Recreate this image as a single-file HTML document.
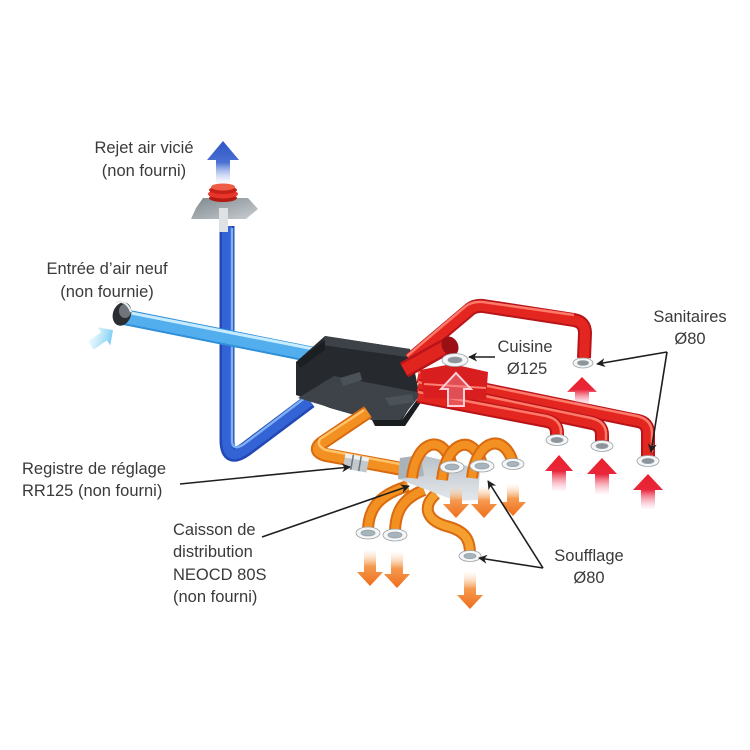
<!DOCTYPE html>
<html><head><meta charset="utf-8"><style>
html,body{margin:0;padding:0;background:#fff;}
svg{display:block;}
text{font-family:"Liberation Sans",sans-serif;font-size:16.5px;fill:#3a3a3a;}
</style></head><body>
<svg width="750" height="750" viewBox="0 0 750 750" xmlns="http://www.w3.org/2000/svg">
<defs>
  <linearGradient id="redUp" x1="0" y1="0" x2="0" y2="1">
    <stop offset="0" stop-color="#e8222a"/>
    <stop offset="0.45" stop-color="#e9263a"/>
    <stop offset="1" stop-color="#f6b0c8" stop-opacity="0.1"/>
  </linearGradient>
  <linearGradient id="orDown" x1="0" y1="0" x2="0" y2="1">
    <stop offset="0" stop-color="#fde4cc" stop-opacity="0.1"/>
    <stop offset="0.45" stop-color="#f59a50"/>
    <stop offset="1" stop-color="#ee6d1a"/>
  </linearGradient>
  <linearGradient id="blueUp" x1="0" y1="0" x2="0" y2="1">
    <stop offset="0" stop-color="#2d55c6"/>
    <stop offset="0.5" stop-color="#4a70d4"/>
    <stop offset="1" stop-color="#dfe8f8" stop-opacity="0.2"/>
  </linearGradient>
  <linearGradient id="cyanA" x1="0" y1="1" x2="1" y2="0">
    <stop offset="0" stop-color="#d8f2fc" stop-opacity="0.2"/>
    <stop offset="1" stop-color="#3fb8ee"/>
  </linearGradient>
  <linearGradient id="flange" x1="0" y1="0" x2="1" y2="1">
    <stop offset="0" stop-color="#7e888e"/>
    <stop offset="1" stop-color="#c9ced2"/>
  </linearGradient>
  <linearGradient id="caisson" x1="0" y1="0" x2="0" y2="1">
    <stop offset="0" stop-color="#b9c1c8"/>
    <stop offset="1" stop-color="#e4e8ec"/>
  </linearGradient>
  <marker id="ah" viewBox="0 0 10 10" refX="9" refY="5" markerWidth="9" markerHeight="9" markerUnits="userSpaceOnUse" orient="auto">
    <path d="M0,0 L10,5 L0,10 L3,5 Z" fill="#1e1e1e"/>
  </marker>
</defs>

<!-- Blue exhaust arrow -->
<path d="M223,141 L239,160 L230,160 L230,184 L216,184 L216,160 L207,160 Z" fill="url(#blueUp)"/>

<!-- Blue vertical exhaust pipe -->
<path d="M227,226 L227,440 Q227,463 246,449 L310,401" fill="none" stroke="#2148b4" stroke-width="15" stroke-linejoin="round"/>
<path d="M227,226 L227,440 Q227,463 246,449 L310,401" fill="none" stroke="#3363d4" stroke-width="10" stroke-linejoin="round"/>
<path d="M232,228 L232,440 Q232,452 244,444 L306,397" fill="none" stroke="#7fb0f4" stroke-width="2.5"/>

<!-- flange and coil -->
<rect x="219" y="206" width="9" height="26" fill="#d6dadc"/>
<polygon points="203,198 248,198 258,209 246,219 191,219 196,208" fill="url(#flange)"/>
<rect x="219" y="208" width="9" height="24" fill="#dfe2e4"/>
<ellipse cx="223" cy="198" rx="14" ry="4" fill="#b31a14"/>
<ellipse cx="223" cy="194" rx="15" ry="4.5" fill="#e8352a"/>
<ellipse cx="223" cy="190" rx="14" ry="4" fill="#c72018"/>
<ellipse cx="223" cy="187" rx="12" ry="3.5" fill="#ef5a44"/>

<!-- cyan intake arrow -->
<g transform="translate(113,330) rotate(55)">
  <path d="M0,0 L11,11 L5,11 L5,27 L-5,27 L-5,11 L-11,11 Z" fill="url(#cyanA)"/>
</g>

<!-- Fresh-air intake pipe -->
<path d="M124,317 L324,357" stroke="#2f8fd8" stroke-width="16" stroke-linecap="round"/>
<path d="M124,317 L324,357" stroke="#53aeee" stroke-width="12"/>
<path d="M126,312 L324,351" stroke="#c8ecff" stroke-width="3"/>
<ellipse cx="122" cy="314" rx="9" ry="12" transform="rotate(20 122 314)" fill="#2a2e32"/>
<ellipse cx="125" cy="311" rx="6" ry="7" fill="#8d9499" opacity="0.7"/>
<path d="M116,302 Q127,300 131,312" stroke="#e8ecef" stroke-width="2" fill="none"/>

<!-- Black unit -->
<polygon points="325,336 410,349 419,392 402,420 372,420 330,408 296,395 296,362" fill="#26292d"/>
<polygon points="325,336 410,349 407,357 322,345" fill="#3c4248"/>
<polygon points="296,362 325,340 325,350 300,368" fill="#1c1f22"/>
<polygon points="298,398 334,376 422,393 400,420 372,420" fill="#3d4349"/>
<polygon points="340,378 360,372 362,380 343,386" fill="#4b5258"/>
<polygon points="385,398 412,394 414,402 390,406" fill="#4b5258"/>
<polygon points="372,420 402,420 422,393 424,398 405,426 375,426" fill="#1b1e21"/>

<!-- Red pipes: long ones -->
<g fill="none" stroke-linecap="butt" stroke-linejoin="round">
  <path d="M418,376 L638,421 Q648,423 648,433 L648,456" stroke="#b8141a" stroke-width="14"/>
  <path d="M418,376 L638,421 Q648,423 648,433 L648,456" stroke="#e3261f" stroke-width="10"/>
  <path d="M418,372 L637,416 Q651,419 652,432 L652,452" stroke="#ff7a68" stroke-width="2.5"/>

  <path d="M418,386 L592,423 Q602,425 602,435 L602,442" stroke="#b8141a" stroke-width="14"/>
  <path d="M418,386 L592,423 Q602,425 602,435 L602,442" stroke="#e3261f" stroke-width="10"/>
  <path d="M418,382 L591,418 Q605,421 606,433 L606,440" stroke="#ff7a68" stroke-width="2.5"/>

  <path d="M418,396 L547,421 Q557,423 557,433 L557,437" stroke="#b8141a" stroke-width="14"/>
  <path d="M418,396 L547,421 Q557,423 557,433 L557,437" stroke="#e3261f" stroke-width="10"/>
  <path d="M418,392 L546,416 Q560,419 561,431 L561,435" stroke="#ff7a68" stroke-width="2.5"/>

  <!-- top pipe to upper sanitaire -->
  <path d="M410,360 L468,311 Q474,305 483,306 L574,320 Q585,322 585,333 L584,358" stroke="#b8141a" stroke-width="14"/>
  <path d="M410,360 L468,311 Q474,305 483,306 L574,320 Q585,322 585,333 L584,358" stroke="#e3261f" stroke-width="10"/>
  <path d="M407,356 L466,306 Q473,301 483,302 L574,315" stroke="#ff7a68" stroke-width="2.5"/>

  <!-- cuisine thick pipe -->
  <path d="M404,370 L445,347" stroke="#b8141a" stroke-width="17"/>
  <path d="M404,370 L445,347" stroke="#e0241e" stroke-width="12"/>
</g>
<ellipse cx="450" cy="346" rx="8" ry="10" transform="rotate(-30 450 346)" fill="#9a1014"/>
<polygon points="420,370 452,364 488,372 486,400 424,398" fill="#d81e1e"/>
<line x1="424" y1="384" x2="486" y2="388" stroke="#ff8070" stroke-width="2"/>

<!-- Vents red -->
<g stroke="#9aa0a4" stroke-width="0.8">
  <ellipse cx="455" cy="360" rx="13" ry="6.5" fill="#f4f6f7"/>
  <ellipse cx="455" cy="360" rx="7" ry="3" fill="#8c959c"/>
  <ellipse cx="583" cy="363" rx="10" ry="5" fill="#f4f6f7"/>
  <ellipse cx="583" cy="363" rx="5.5" ry="2.4" fill="#8c959c"/>
  <ellipse cx="557" cy="440" rx="11" ry="5.5" fill="#f4f6f7"/>
  <ellipse cx="557" cy="440" rx="6" ry="2.6" fill="#8c959c"/>
  <ellipse cx="602" cy="446" rx="11" ry="5.5" fill="#f4f6f7"/>
  <ellipse cx="602" cy="446" rx="6" ry="2.6" fill="#8c959c"/>
  <ellipse cx="648" cy="461" rx="11" ry="5.5" fill="#f4f6f7"/>
  <ellipse cx="648" cy="461" rx="6" ry="2.6" fill="#8c959c"/>
</g>

<!-- Red arrows -->
<path d="M456,373 L471,389 L464,389 L464,406 L448,406 L448,389 L441,389 Z" fill="#f08a9a" fill-opacity="0.45" stroke="#fbd0d8" stroke-width="2"/>
<path d="M582,377 L597,392 L589,392 L589,405 L575,405 L575,392 L567,392 Z" fill="url(#redUp)"/>
<path d="M559,455 L573,471 L566,471 L566,491 L552,491 L552,471 L545,471 Z" fill="url(#redUp)"/>
<path d="M602,458 L617,474 L609,474 L609,494 L595,494 L595,474 L587,474 Z" fill="url(#redUp)"/>
<path d="M648,474 L663,490 L655,490 L655,509 L641,509 L641,490 L633,490 Z" fill="url(#redUp)"/>

<!-- Orange supply pipe from unit -->
<g fill="none" stroke-linejoin="round">
  <path d="M368,412 L322,443 Q312,451 326,455 L402,469" stroke="#d96a10" stroke-width="14"/>
  <path d="M368,412 L322,443 Q312,451 326,455 L402,469" stroke="#f39022" stroke-width="10"/>
  <path d="M364,410 L320,439 Q316,446 326,450 L400,464" stroke="#ffc46a" stroke-width="2.5"/>
</g>
<!-- registre -->
<g transform="translate(356,463) rotate(10)">
  <rect x="-12" y="-7.5" width="24" height="15" fill="#c2c8cc"/>
  <rect x="-12" y="-7.5" width="24" height="4" fill="#eef1f3"/>
  <line x1="-4" y1="-7.5" x2="-4" y2="7.5" stroke="#6b757c" stroke-width="1.5"/>
  <line x1="4" y1="-7.5" x2="4" y2="7.5" stroke="#6b757c" stroke-width="1.5"/>
</g>

<!-- lower orange pipes (behind caisson) -->
<g fill="none" stroke-linecap="butt">
  <path d="M408,486 C382,494 368,506 368,531" stroke="#d96a10" stroke-width="12"/>
  <path d="M408,486 C382,494 368,506 368,531" stroke="#f39022" stroke-width="8"/>
  <path d="M424,490 C404,498 395,510 395,533" stroke="#d96a10" stroke-width="12"/>
  <path d="M424,490 C404,498 395,510 395,533" stroke="#f39022" stroke-width="8"/>
  <path d="M436,494 C422,506 426,520 446,526 C466,531 470,540 470,554" stroke="#d96a10" stroke-width="12"/>
  <path d="M436,494 C422,506 426,520 446,526 C466,531 470,540 470,554" stroke="#f5a02e" stroke-width="8"/>
</g>

<!-- caisson -->
<polygon points="400,458 421,455 480,469 478,500 456,501 398,479" fill="url(#caisson)"/>
<polygon points="400,458 421,455 424,476 398,479" fill="#aab3ba"/>

<!-- loops over caisson -->
<g fill="none">
  <path d="M412,478 C416,440 444,432 452,466" stroke="#d96a10" stroke-width="12"/>
  <path d="M412,478 C416,440 444,432 452,466" stroke="#f39022" stroke-width="8"/>
  <path d="M442,480 C446,441 474,432 482,465" stroke="#d96a10" stroke-width="12"/>
  <path d="M442,480 C446,441 474,432 482,465" stroke="#f39022" stroke-width="8"/>
  <path d="M472,478 C476,440 504,431 513,463" stroke="#d96a10" stroke-width="12"/>
  <path d="M472,478 C476,440 504,431 513,463" stroke="#f39022" stroke-width="8"/>
</g>

<!-- orange vents -->
<g stroke="#9aa0a4" stroke-width="0.8">
  <ellipse cx="452" cy="467" rx="12" ry="6" fill="#f4f6f7"/>
  <ellipse cx="452" cy="467" rx="7" ry="3" fill="#a6b4bd"/>
  <ellipse cx="482" cy="466" rx="12" ry="6" fill="#f4f6f7"/>
  <ellipse cx="482" cy="466" rx="7" ry="3" fill="#a6b4bd"/>
  <ellipse cx="513" cy="464" rx="11" ry="5.5" fill="#f4f6f7"/>
  <ellipse cx="513" cy="464" rx="6" ry="2.6" fill="#a6b4bd"/>
  <ellipse cx="368" cy="533" rx="12" ry="6" fill="#f4f6f7"/>
  <ellipse cx="368" cy="533" rx="7" ry="3" fill="#a6b4bd"/>
  <ellipse cx="395" cy="535" rx="12" ry="6" fill="#f4f6f7"/>
  <ellipse cx="395" cy="535" rx="7" ry="3" fill="#a6b4bd"/>
  <ellipse cx="470" cy="556" rx="11" ry="5.5" fill="#f4f6f7"/>
  <ellipse cx="470" cy="556" rx="6" ry="2.6" fill="#a6b4bd"/>
</g>

<!-- orange arrows (down) -->
<path d="M456,518 L443,504 L450,504 L450,486 L462,486 L462,504 L469,504 Z" fill="url(#orDown)"/>
<path d="M484,518 L471,504 L478,504 L478,486 L490,486 L490,504 L497,504 Z" fill="url(#orDown)"/>
<path d="M513,516 L500,502 L507,502 L507,484 L519,484 L519,502 L526,502 Z" fill="url(#orDown)"/>
<path d="M370,586 L357,572 L364,572 L364,550 L376,550 L376,572 L383,572 Z" fill="url(#orDown)"/>
<path d="M397,588 L384,574 L391,574 L391,552 L403,552 L403,574 L410,574 Z" fill="url(#orDown)"/>
<path d="M470,609 L457,595 L464,595 L464,572 L476,572 L476,595 L483,595 Z" fill="url(#orDown)"/>

<!-- Leader lines -->
<g stroke="#1e1e1e" stroke-width="1.6" fill="none">
  <line x1="495" y1="357" x2="469" y2="357" marker-end="url(#ah)"/>
  <line x1="667" y1="352" x2="597" y2="364" marker-end="url(#ah)"/>
  <line x1="667" y1="352" x2="651" y2="452" marker-end="url(#ah)"/>
  <line x1="180" y1="484" x2="350" y2="467" marker-end="url(#ah)"/>
  <line x1="262" y1="537" x2="409" y2="486" marker-end="url(#ah)"/>
  <line x1="543" y1="568" x2="488" y2="481" marker-end="url(#ah)"/>
  <line x1="543" y1="568" x2="479" y2="558" marker-end="url(#ah)"/>
</g>

<!-- Labels -->
<text x="144" y="153" text-anchor="middle">Rejet air vicié</text>
<text x="144" y="176" text-anchor="middle">(non fourni)</text>
<text x="107" y="274" text-anchor="middle">Entrée d’air neuf</text>
<text x="107" y="297" text-anchor="middle">(non fournie)</text>
<text x="525" y="352" text-anchor="middle">Cuisine</text>
<text x="527" y="374" text-anchor="middle">Ø125</text>
<text x="690" y="322" text-anchor="middle">Sanitaires</text>
<text x="690" y="344" text-anchor="middle">Ø80</text>
<text x="22" y="474">Registre de réglage</text>
<text x="22" y="496">RR125 (non fourni)</text>
<text x="173" y="535">Caisson de</text>
<text x="173" y="557">distribution</text>
<text x="173" y="580">NEOCD 80S</text>
<text x="173" y="602">(non fourni)</text>
<text x="589" y="561" text-anchor="middle">Soufflage</text>
<text x="589" y="583" text-anchor="middle">Ø80</text>
</svg>
</body></html>
